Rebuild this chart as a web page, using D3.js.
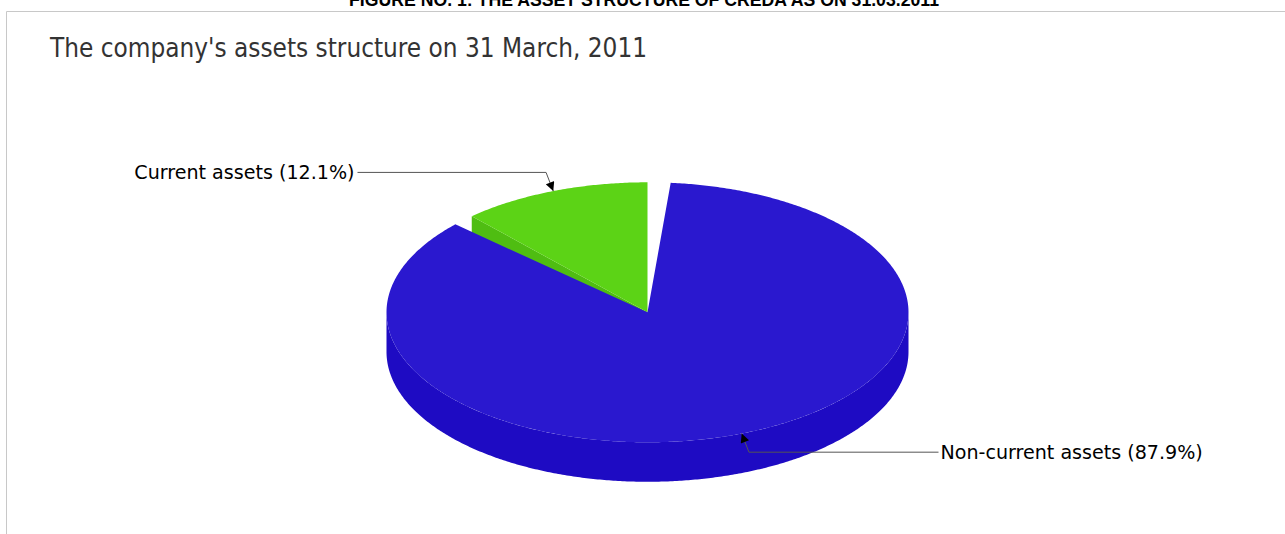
<!DOCTYPE html>
<html>
<head>
<meta charset="utf-8">
<script src="https://cdn.jsdelivr.net/npm/d3@7"></script>
<style>
  html, body { margin: 0; padding: 0; background: #ffffff; }
  svg { display: block; }
</style>
</head>
<body>
<svg id="chart" width="1285" height="534"></svg>
<script>
// ---- data ----
const caption = "FIGURE NO. 1: THE ASSET STRUCTURE OF CREDA AS ON 31.03.2011";
const title = "The company's assets structure on 31 March, 2011";
const categories = ["Current assets", "Non-current assets"];
const values = [12.1, 87.9];
const topColors = ["#5cd316", "#2a18cf"];
const sideColors = ["#4fbd12", "#1e0bc3"];

// ---- layout ----
const W = 1285, H = 534;
const cx = 647.5, cy = 312.3, rx = 261, ry = 130, depth = 39.5;
const deg = Math.PI / 180;

const svg = d3.select("#chart");

// frame
svg.append("line").attr("x1", 6.5).attr("x2", W).attr("y1", 11.5).attr("y2", 11.5)
  .attr("stroke", "#c8c8c8").attr("stroke-width", 1);
svg.append("line").attr("x1", 6.5).attr("x2", 6.5).attr("y1", 11.5).attr("y2", H)
  .attr("stroke", "#c8c8c8").attr("stroke-width", 1);

// caption on top (clipped by the top edge as in the source)
svg.append("text")
  .attr("x", 644).attr("y", 6)
  .attr("text-anchor", "middle")
  .attr("font-family", "'Liberation Sans', Arial, sans-serif")
  .attr("font-weight", "bold")
  .attr("font-size", 19)
  .attr("textLength", 590)
  .attr("lengthAdjust", "spacingAndGlyphs")
  .attr("fill", "#000")
  .text(caption);

// title
svg.append("text")
  .attr("x", 50).attr("y", 56.5)
  .attr("font-family", "'DejaVu Sans Condensed', 'DejaVu Sans', sans-serif")
  .attr("font-stretch", "condensed")
  .attr("font-size", 25.9)
  .attr("fill", "#333333")
  .text(title);

// ---- pie layout (angles in ellipse-parametric space, clockwise from 12 o'clock) ----
const pad = 5.1 * deg;
const startOffset = -(values[0] / d3.sum(values)) * (2 * Math.PI - 2 * pad) - pad * 0.5;
const pie = d3.pie().value(d => d).sort(null).padAngle(pad)
  .startAngle(startOffset).endAngle(startOffset + 2 * Math.PI);
const arcs = pie(values).map((a, i) => ({
  i,
  a0: a.startAngle + a.padAngle / 2,
  a1: a.endAngle - a.padAngle / 2
}));

const pt = (t, dy = 0) => [cx + rx * Math.sin(t), cy - ry * Math.cos(t) + dy];
function arcPoints(t0, t1, dy = 0) {
  const n = Math.max(2, Math.ceil(Math.abs(t1 - t0) / (0.5 * deg)));
  return d3.range(n + 1).map(k => pt(t0 + (t1 - t0) * k / n, dy));
}
const line = d3.line();

const gSides = svg.append("g");
const gTops = svg.append("g");

arcs.forEach(s => {
  // radial faces that face the viewer
  if (Math.sin(s.a0) < 0) {
    const p = pt(s.a0);
    gSides.append("path")
      .attr("d", line([[cx, cy], p, [p[0], p[1] + depth], [cx, cy + depth]]) + "Z")
      .attr("fill", sideColors[s.i]);
  }
  if (Math.sin(s.a1) > 0) {
    const p = pt(s.a1);
    gSides.append("path")
      .attr("d", line([[cx, cy], p, [p[0], p[1] + depth], [cx, cy + depth]]) + "Z")
      .attr("fill", sideColors[s.i]);
  }
  // outer curved side: visible between 90deg and 270deg
  for (let k = -1; k <= 1; k++) {
    const lo = Math.max(s.a0, Math.PI / 2 + k * 2 * Math.PI);
    const hi = Math.min(s.a1, 1.5 * Math.PI + k * 2 * Math.PI);
    if (hi > lo) {
      const top = arcPoints(lo, hi, 0);
      const bot = arcPoints(hi, lo, depth);
      gSides.append("path")
        .attr("d", line(top.concat(bot)) + "Z")
        .attr("fill", sideColors[s.i]);
    }
  }
  // top face
  gTops.append("path")
    .attr("d", line([[cx, cy]].concat(arcPoints(s.a0, s.a1, 0))) + "Z")
    .attr("fill", topColors[s.i]);
});

// ---- labels with connectors ----
const defs = svg.append("defs");
defs.append("marker")
  .attr("id", "arrow")
  .attr("viewBox", "0 0 10 10")
  .attr("refX", 10).attr("refY", 5)
  .attr("markerWidth", 11).attr("markerHeight", 9)
  .attr("markerUnits", "userSpaceOnUse")
  .attr("orient", "auto-start-reverse")
  .append("path").attr("d", "M0,0 L10,5 L0,10 Z").attr("fill", "#000");

const gLab = svg.append("g");
arcs.forEach(s => {
  const mid = (s.a0 + s.a1) / 2;
  const tip = pt(mid);
  const ux = Math.sin(mid), uy = -Math.cos(mid);
  const elbow = [tip[0] + ux * 20, tip[1] + uy * 20];
  const left = ux < 0;
  const textX = left ? cx - rx - 32 : cx + rx + 32;
  const lineEnd = left ? textX + 3 : textX - 2;
  gLab.append("path")
    .attr("d", line([tip, elbow, [lineEnd, elbow[1]]]))
    .attr("fill", "none")
    .attr("stroke", "#555")
    .attr("stroke-width", 1)
    .attr("marker-start", "url(#arrow)");
  gLab.append("text")
    .attr("x", textX).attr("y", elbow[1])
    .attr("dy", "0.36em")
    .attr("text-anchor", left ? "end" : "start")
    .attr("font-family", "'DejaVu Sans', sans-serif")
    .attr("font-size", 19.1)
    .attr("fill", "#000")
    .text(`${categories[s.i]} (${values[s.i].toFixed(1)}%)`);
});
</script>
</body>
</html>
